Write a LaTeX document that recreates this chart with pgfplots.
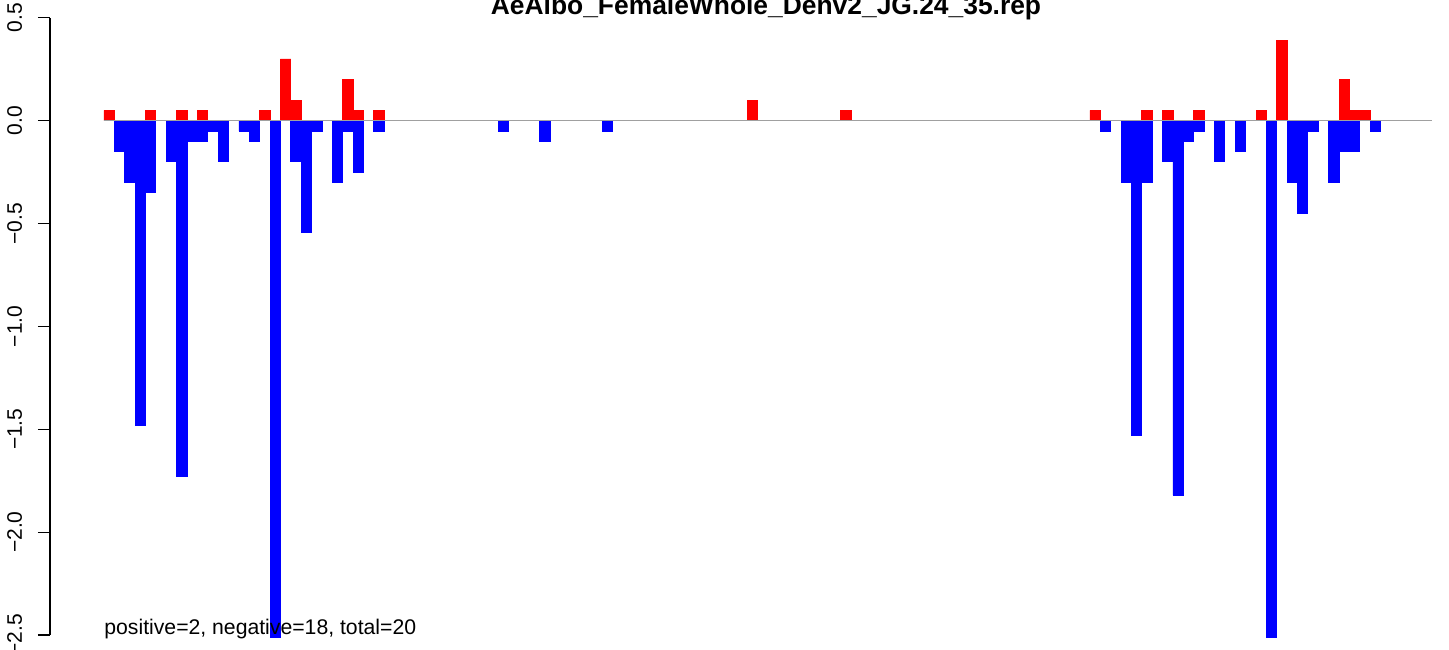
\documentclass[border=0pt]{standalone}
\usepackage{pgfplots}
\pgfplotsset{compat=1.18}
\usepackage{fontspec}
\setmainfont{Liberation Sans}
\definecolor{zline}{RGB}{160,160,160}
\begin{document}
\begin{tikzpicture}
\useasboundingbox (0,0) rectangle (724.5pt,324.5pt);
\begin{axis}[
  at={(25pt,0pt)}, anchor=south west,
  scale only axis, width=691pt, height=324.5pt,
  xmin=-5.203, xmax=127.96, ymin=-2.5683, ymax=0.5868,
  clip=false,
  axis x line=none,
  axis y line*=left,
  y axis line style={draw=none},
  ytick={-2.5,-2,-1.5,-1,-0.5,0,0.5},
  yticklabels={−2.5,−2.0,−1.5,−1.0,−0.5,0.0,0.5},
  tick align=outside,
  major tick length=6pt,
  ytick style={black, line width=0.6pt},
  yticklabel style={rotate=90, anchor=base, font=\fontsize{10.5}{12}\selectfont},
  yticklabel shift=8pt,
  ybar, bar width=1, bar shift=0pt,
]
\addplot[fill={rgb,255:red,255;green,0;blue,0}, draw={rgb,255:red,255;green,0;blue,0}, line width=0.4pt] coordinates {
(0.5,0.05) (4.5,0.05) (7.5,0.05) (9.5,0.05) (15.5,0.05) (17.5,0.3) (18.5,0.1)
(23.5,0.2) (24.5,0.05) (26.5,0.05) (62.5,0.1) (71.5,0.05) (95.5,0.05)
(100.5,0.05) (102.5,0.05) (105.5,0.05) (111.5,0.05) (113.5,0.39)
(119.5,0.2) (120.5,0.05) (121.5,0.05)
};
\addplot[fill={rgb,255:red,0;green,0;blue,255}, draw={rgb,255:red,0;green,0;blue,255}, line width=0.4pt] coordinates {
(1.5,-0.15) (2.5,-0.3) (3.5,-1.48) (4.5,-0.35) (6.5,-0.2) (7.5,-1.73)
(8.5,-0.1) (9.5,-0.1) (10.5,-0.05) (11.5,-0.2) (13.5,-0.05) (14.5,-0.1)
(16.5,-2.51) (18.5,-0.2) (19.5,-0.545) (20.5,-0.05) (22.5,-0.3) (23.5,-0.05)
(24.5,-0.25) (26.5,-0.05) (38.5,-0.05) (42.5,-0.1) (48.5,-0.05)
(96.5,-0.05) (98.5,-0.3) (99.5,-1.53) (100.5,-0.3) (102.5,-0.2) (103.5,-1.82)
(104.5,-0.1) (105.5,-0.05) (107.5,-0.2) (109.5,-0.15) (112.5,-2.51)
(114.5,-0.3) (115.5,-0.45) (116.5,-0.05) (118.5,-0.3) (119.5,-0.15)
(120.5,-0.15) (122.5,-0.05)
};
\addplot[sharp plot, draw=zline, line width=0.7pt, forget plot] coordinates {(0,0) (127.96,0)};
\draw[black, line width=0.6pt] (axis cs:-5.203,-2.5) -- (axis cs:-5.203,0.5);
\node[anchor=base west, inner sep=0pt, font=\fontsize{10.6}{12}\selectfont] at (axis cs:0,-2.5) {positive=2, negative=18, total=20};
\node[anchor=base, inner sep=0pt, font=\fontsize{13.2}{15}\selectfont\bfseries] at (axis cs:63.79,0.514) {AeAlbo\_FemaleWhole\_Denv2\_JG.24\_35.rep};
\end{axis}
\end{tikzpicture}
\end{document}
